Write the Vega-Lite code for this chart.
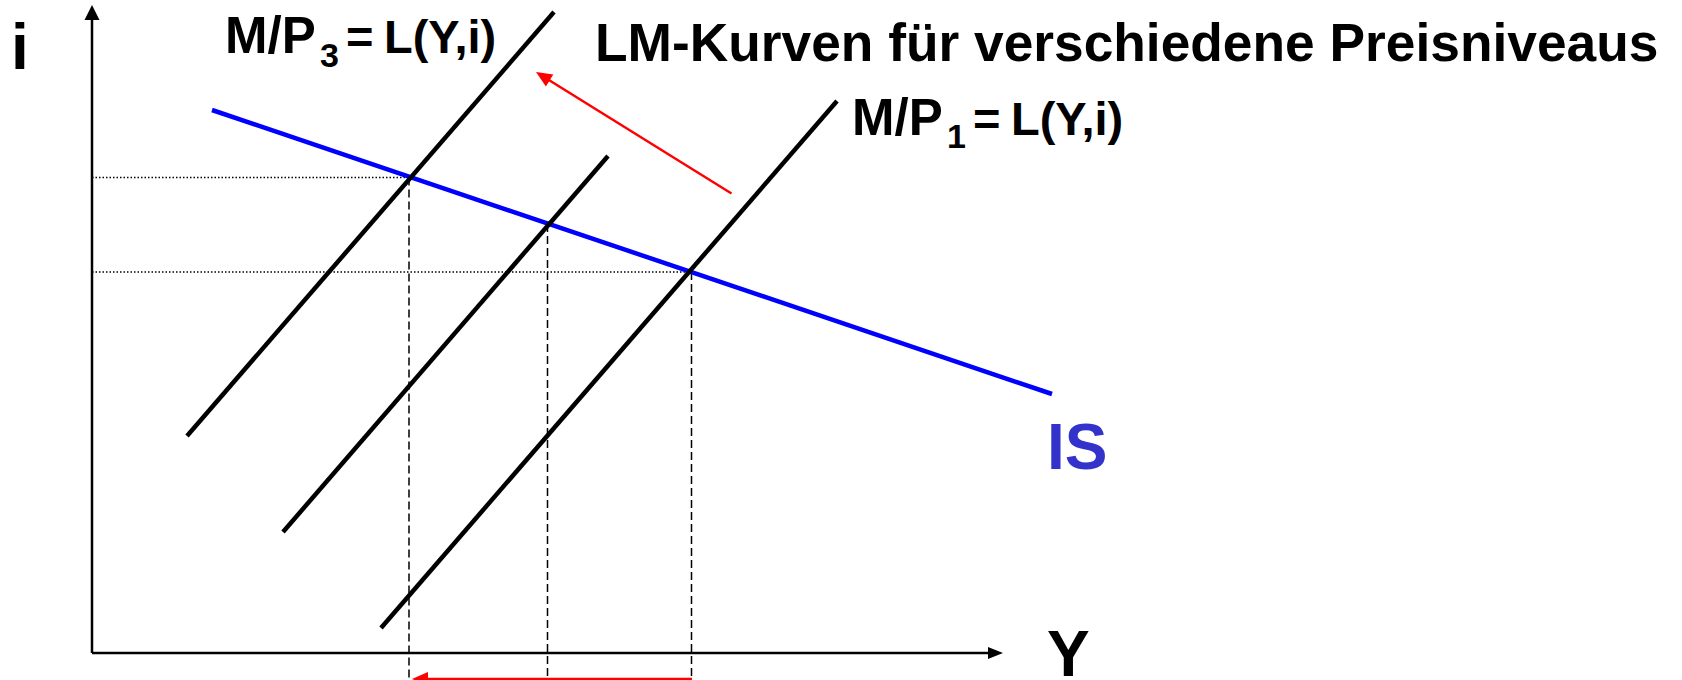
{
  "$schema": "https://vega.github.io/schema/vega-lite/v6.json",
  "width": 1682,
  "height": 680,
  "autosize": {"type": "none"},
  "padding": 0,
  "background": "white",
  "config": {"view": {"stroke": null}, "text": {"font": "Liberation Sans", "fontWeight": "bold"}},
  "datasets": {
    "segments": [
      {"curve": "i-axis", "Y": 0, "i": 0, "Y2": 0, "i2": 636},
      {"curve": "Y-axis", "Y": 0, "i": 0, "Y2": 898, "i2": 0},
      {"curve": "i3-level", "Y": 0, "i": 475.5, "Y2": 317, "i2": 475.5},
      {"curve": "i1-level", "Y": 0, "i": 381, "Y2": 599.5, "i2": 381},
      {"curve": "Y3-level", "Y": 317, "i": 475.5, "Y2": 317, "i2": -27},
      {"curve": "Y2-level", "Y": 455.5, "i": 429, "Y2": 455.5, "i2": -27},
      {"curve": "Y1-level", "Y": 599.5, "i": 381, "Y2": 599.5, "i2": -27},
      {"curve": "IS", "Y": 120, "i": 543, "Y2": 960, "i2": 259},
      {"curve": "LM3", "Y": 95, "i": 217, "Y2": 462, "i2": 641},
      {"curve": "LM2", "Y": 191, "i": 121, "Y2": 516, "i2": 497},
      {"curve": "LM1", "Y": 289, "i": 25, "Y2": 745, "i2": 552},
      {"curve": "shift-LM", "Y": 639.5, "i": 459.5, "Y2": 450.8, "i2": 576.8},
      {"curve": "shift-Y", "Y": 600, "i": -26, "Y2": 330, "i2": -26}
    ],
    "heads": [
      {"head": "i-axis", "Y": 0, "i": 648},
      {"head": "Y-axis", "Y": 911, "i": 0},
      {"head": "shift-LM", "Y": 444, "i": 581},
      {"head": "shift-Y", "Y": 320, "i": -26}
    ],
    "labels": [
      {"role": "axisname", "label": "i", "Y": -81, "i": 584},
      {"role": "axisname", "label": "Y", "Y": 955, "i": -23},
      {"role": "is", "label": "IS", "Y": 955, "i": 184},
      {"role": "lead", "label": "M/P", "Y": 133, "i": 600},
      {"role": "sub", "label": "3", "Y": 228, "i": 586},
      {"role": "formula", "label": "=", "Y": 254, "i": 600},
      {"role": "formula", "label": "L(Y,i)", "Y": 292, "i": 600},
      {"role": "lead", "label": "M/P", "Y": 760, "i": 518},
      {"role": "sub", "label": "1", "Y": 855, "i": 505},
      {"role": "formula", "label": "=", "Y": 881, "i": 518},
      {"role": "formula", "label": "L(Y,i)", "Y": 919, "i": 518},
      {"role": "title", "label": "LM-Kurven für verschiedene Preisniveaus", "Y": 503, "i": 592}
    ]
  },
  "encoding": {
    "x": {"field": "Y", "type": "quantitative", "scale": {"domain": [-92, 1590], "nice": false, "zero": false}, "axis": null},
    "y": {"field": "i", "type": "quantitative", "scale": {"domain": [-27, 653], "nice": false, "zero": false}, "axis": null}
  },
  "layer": [
    {
      "data": {"name": "segments"},
      "transform": [{"filter": "datum.curve === 'i3-level' || datum.curve === 'i1-level'"}],
      "mark": {"type": "rule", "color": "black", "strokeWidth": 1.5, "strokeDash": [1.5, 2]},
      "encoding": {"x2": {"field": "Y2"}, "y2": {"field": "i2"}}
    },
    {
      "data": {"name": "segments"},
      "transform": [{"filter": "indexof(['Y3-level','Y2-level','Y1-level'], datum.curve) >= 0"}],
      "mark": {"type": "rule", "color": "black", "strokeWidth": 1.5, "strokeDash": [8, 4]},
      "encoding": {"x2": {"field": "Y2"}, "y2": {"field": "i2"}}
    },
    {
      "data": {"name": "segments"},
      "transform": [{"filter": "datum.curve === 'i-axis' || datum.curve === 'Y-axis'"}],
      "mark": {"type": "rule", "color": "black", "strokeWidth": 2.5},
      "encoding": {"x2": {"field": "Y2"}, "y2": {"field": "i2"}}
    },
    {
      "data": {"name": "segments"},
      "transform": [{"filter": "datum.curve === 'IS'"}],
      "mark": {"type": "rule", "color": "#0000FF", "strokeWidth": 4.5},
      "encoding": {"x2": {"field": "Y2"}, "y2": {"field": "i2"}}
    },
    {
      "data": {"name": "segments"},
      "transform": [{"filter": "indexof(['LM1','LM2','LM3'], datum.curve) >= 0"}],
      "mark": {"type": "rule", "color": "black", "strokeWidth": 4.5},
      "encoding": {"x2": {"field": "Y2"}, "y2": {"field": "i2"}}
    },
    {
      "data": {"name": "segments"},
      "transform": [{"filter": "datum.curve === 'shift-LM' || datum.curve === 'shift-Y'"}],
      "mark": {"type": "rule", "color": "#FF0000", "strokeWidth": 2.5},
      "encoding": {"x2": {"field": "Y2"}, "y2": {"field": "i2"}}
    },
    {
      "data": {"name": "heads"},
      "transform": [{"filter": "datum.head === 'i-axis'"}],
      "mark": {"type": "point", "shape": "M0,0L-0.75,1.5L0.75,1.5Z", "size": 400, "angle": 0, "filled": true, "color": "black", "opacity": 1, "strokeWidth": 0}
    },
    {
      "data": {"name": "heads"},
      "transform": [{"filter": "datum.head === 'Y-axis'"}],
      "mark": {"type": "point", "shape": "M0,0L-0.6,1.5L0.6,1.5Z", "size": 400, "angle": 90, "filled": true, "color": "black", "opacity": 1, "strokeWidth": 0}
    },
    {
      "data": {"name": "heads"},
      "transform": [{"filter": "datum.head === 'shift-LM'"}],
      "mark": {"type": "point", "shape": "M0,0L-0.7,1.6L0.7,1.6Z", "size": 400, "angle": 301.85, "filled": true, "color": "#FF0000", "opacity": 1, "strokeWidth": 0}
    },
    {
      "data": {"name": "heads"},
      "transform": [{"filter": "datum.head === 'shift-Y'"}],
      "mark": {"type": "point", "shape": "M0,0L-0.7,1.6L0.7,1.6Z", "size": 400, "angle": 270, "filled": true, "color": "#FF0000", "opacity": 1, "strokeWidth": 0}
    },
    {
      "data": {"name": "labels"},
      "transform": [{"filter": "datum.role === 'axisname'"}],
      "mark": {"type": "text", "fontSize": 64, "align": "left", "baseline": "alphabetic", "color": "black"},
      "encoding": {"text": {"field": "label"}}
    },
    {
      "data": {"name": "labels"},
      "transform": [{"filter": "datum.role === 'is'"}],
      "mark": {"type": "text", "fontSize": 64, "align": "left", "baseline": "alphabetic", "color": "#3333CC"},
      "encoding": {"text": {"field": "label"}}
    },
    {
      "data": {"name": "labels"},
      "transform": [{"filter": "datum.role === 'lead'"}],
      "mark": {"type": "text", "fontSize": 51, "align": "left", "baseline": "alphabetic", "color": "black"},
      "encoding": {"text": {"field": "label"}}
    },
    {
      "data": {"name": "labels"},
      "transform": [{"filter": "datum.role === 'formula'"}],
      "mark": {"type": "text", "fontSize": 47, "align": "left", "baseline": "alphabetic", "color": "black"},
      "encoding": {"text": {"field": "label"}}
    },
    {
      "data": {"name": "labels"},
      "transform": [{"filter": "datum.role === 'sub'"}],
      "mark": {"type": "text", "fontSize": 34, "align": "left", "baseline": "alphabetic", "color": "black"},
      "encoding": {"text": {"field": "label"}}
    },
    {
      "data": {"name": "labels"},
      "transform": [{"filter": "datum.role === 'title'"}],
      "mark": {"type": "text", "fontSize": 53.3, "align": "left", "baseline": "alphabetic", "color": "black"},
      "encoding": {"text": {"field": "label"}}
    }
  ]
}
